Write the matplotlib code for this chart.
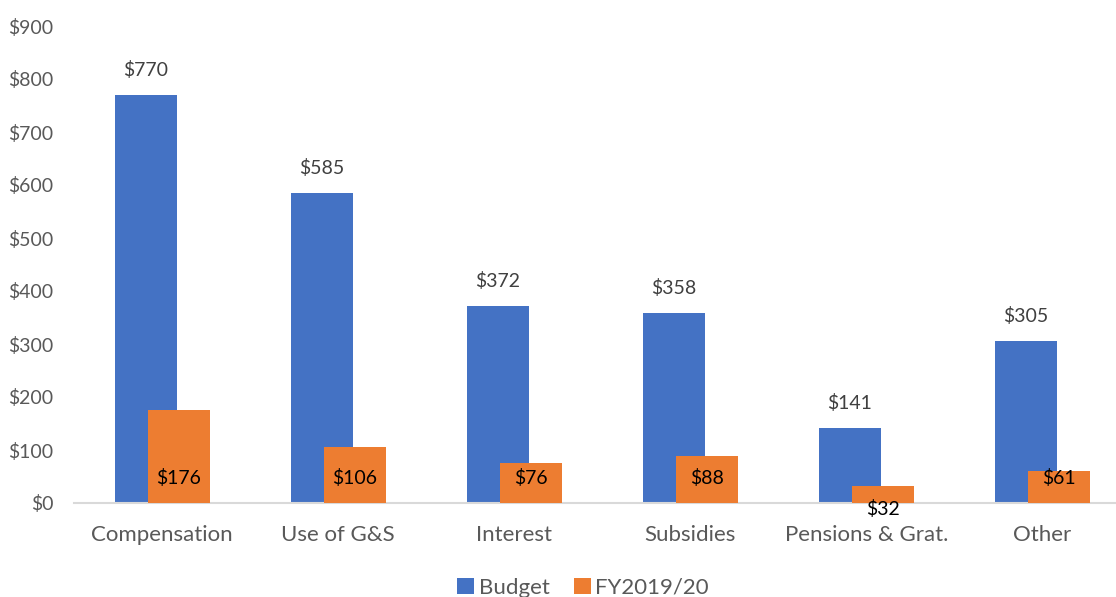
import matplotlib
matplotlib.use("Agg")
import matplotlib.pyplot as plt
import numpy as np

categories = ["Compensation", "Use of G&S", "Interest", "Subsidies", "Pensions & Grat.", "Other"]
budget = [770, 585, 372, 358, 141, 305]
fy = [176, 106, 76, 88, 32, 61]
yticks = [0, 100, 200, 300, 400, 500, 600, 700, 800, 900]

plt.rcParams['font.family'] = ['Lato', 'DejaVu Sans']

W, H = 1116, 597
fig = plt.figure(figsize=(W / 100, H / 100), dpi=100)
left, right = 74.2, 1130.2
top, bottom = 26, 503
ax = fig.add_axes([left / W, 1 - bottom / H, (right - left) / W, (bottom - top) / H])
ax.set_xlim(-0.5, len(categories) - 0.5)
ax.set_ylim(0, 900)

x = np.arange(len(categories))
bw = 62 / 176
off = 33 / 2 / 176
blue = "#4472C4"
orange = "#ED7D31"
ax.bar(x - off, budget, width=bw, color=blue, label="Budget", zorder=2)
ax.bar(x + off, fy, width=bw, color=orange, label="FY2019/20", zorder=3)

for xi, v in zip(x, budget):
    ax.annotate(f"${v}", (xi - off, v), xytext=(0, 18), textcoords="offset points",
                ha="center", va="center", fontsize=14, color="#404040")
for xi, v in zip(x, fy):
    dy = 18 if v > 45 else -4
    ax.annotate(f"${v}", (xi + off, 0), xytext=(0, dy), textcoords="offset points",
                ha="center", va="center", fontsize=14, color="black", zorder=4)

ax.set_yticks(yticks)
ax.set_yticklabels([f"${t}" for t in yticks], fontsize=14, color="#595959")
ax.set_xticks(x)
ax.set_xticklabels(categories, fontsize=16, color="#595959")
ax.tick_params(axis="both", length=0)
ax.tick_params(axis="y", pad=15)
ax.tick_params(axis="x", pad=16)
for s in ["top", "right", "left"]:
    ax.spines[s].set_visible(False)
ax.spines["bottom"].set_color("#D9D9D9")
ax.spines["bottom"].set_linewidth(1.5)

leg = fig.legend(loc="center", bbox_to_anchor=(583 / W, 1 - 588 / H), ncol=2, frameon=False,
                 fontsize=16, handlelength=0.75, handleheight=0.75, columnspacing=1.1,
                 handletextpad=0.2, labelcolor="#595959")

fig.savefig("out.png", dpi=100)
